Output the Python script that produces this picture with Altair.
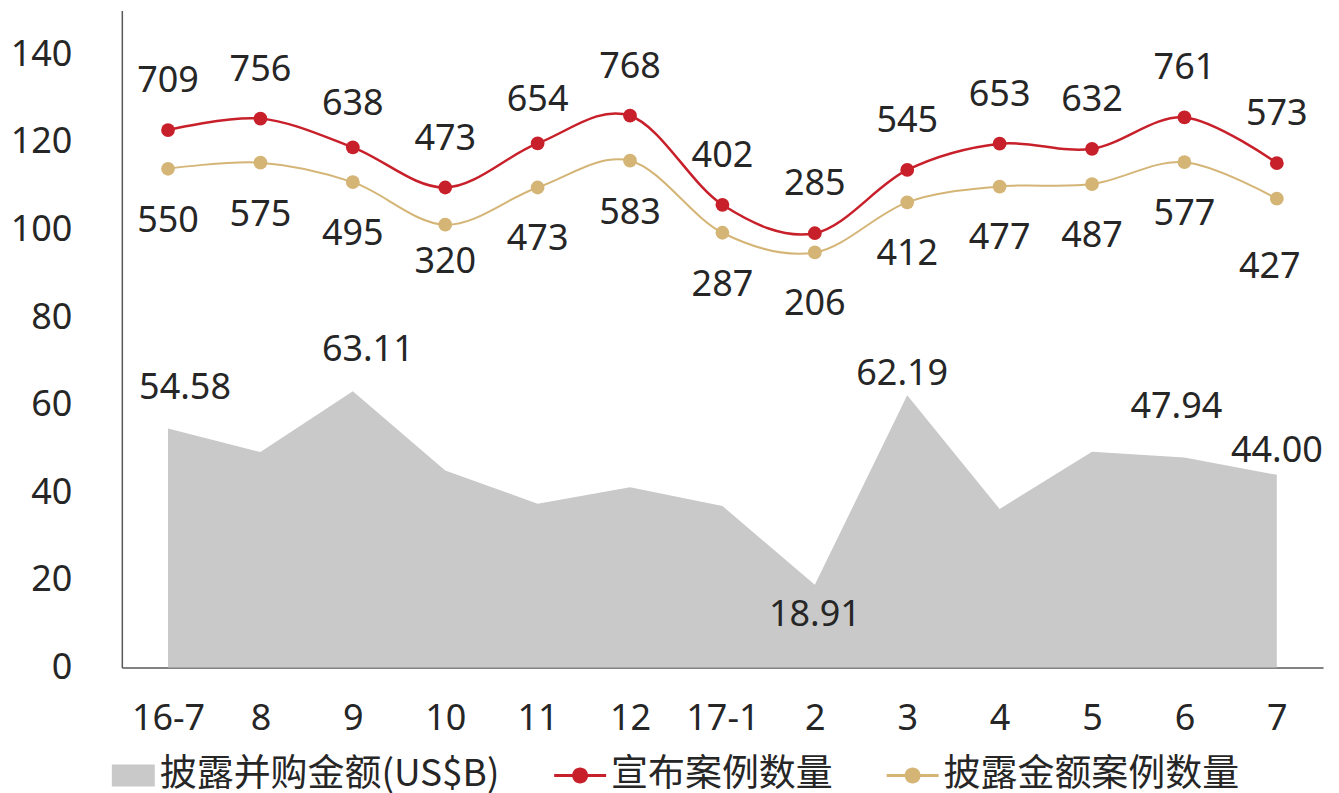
import altair as alt
import pandas as pd

# ---- data ----
categories = ["16-7", "8", "9", "10", "11", "12", "17-1", "2", "3", "4", "5", "6", "7"]
amount_usd_b = [54.58, 49.2, 63.11, 45.0, 37.4, 41.2, 36.9, 18.91, 62.19, 36.2, 49.3, 47.94, 44.00]
announced_cases = [709, 756, 638, 473, 654, 768, 402, 285, 545, 653, 632, 761, 573]
disclosed_cases = [550, 575, 495, 320, 473, 583, 287, 206, 412, 477, 487, 577, 427]
amount_labelled = ["16-7", "9", "2", "3", "6", "7"]

series_names = ["披露并购金额(US$B)", "宣布案例数量", "披露金额案例数量"]

# ---- styles ----
GRAY = "#c9c9c9"
RED = "#c8202a"
TAN = "#d4b576"
TEXT = "#262626"
AXIS = "#595959"
FONT = "Noto Sans, Noto Sans CJK SC"
CJK = "Noto Sans CJK SC"
FS = 36

df = pd.DataFrame({
    "cat": categories,
    "amount": amount_usd_b,
    "announced": announced_cases,
    "disclosed": disclosed_cases,
})

x_axis = alt.Axis(title=None, labelAngle=0, labelFontSize=FS, labelColor=TEXT,
                  labelFont=FONT, ticks=False, domainColor=AXIS, domainWidth=1.5,
                  labelPadding=34, labelOverlap=False, grid=False)
x_enc = alt.X("cat:N", sort=categories, scale=alt.Scale(padding=0.5), axis=x_axis)

y_main_scale = alt.Scale(domain=[0, 150], nice=False)
y_cnt_scale = alt.Scale(domain=[-1500, 1200], nice=False)

base = alt.Chart(df)

area = base.mark_area(color=GRAY, opacity=1).encode(
    x=x_enc,
    y=alt.Y("amount:Q", scale=y_main_scale,
            axis=alt.Axis(title=None, values=[0, 20, 40, 60, 80, 100, 120, 140], grid=False,
                          ticks=False, labelFontSize=FS, labelColor=TEXT, labelFont=FONT,
                          labelPadding=50, domainColor=AXIS, domainWidth=1.5)),
)

# amount labels (individually nudged like the original)
amt_offsets = {"16-7": (17, -41), "9": (15, -41), "2": (0, 30), "3": (-5, -21), "6": (-8, -51), "7": (0, -24)}
amt_labels = []
for c in amount_labelled:
    dx, dy = amt_offsets[c]
    amt_labels.append(
        base.transform_filter(alt.datum.cat == c).mark_text(
            fontSize=FS, color=TEXT, font=FONT, dx=dx, dy=dy, baseline="middle"
        ).encode(
            x=x_enc,
            y=alt.Y("amount:Q", scale=y_main_scale, axis=None),
            text=alt.Text("amount:Q", format=".2f"),
        )
    )

def count_layers(field, color, width, label_offsets, default_offset):
    yenc = alt.Y(f"{field}:Q", scale=y_cnt_scale, axis=None)
    line = base.mark_line(color=color, strokeWidth=width, interpolate="cardinal").encode(x=x_enc, y=yenc)
    pts = base.mark_point(filled=True, color=color, opacity=1, size=190).encode(x=x_enc, y=yenc)
    layers = [line, pts]
    special = list(label_offsets.keys())
    layers.append(
        base.transform_filter(~alt.FieldOneOfPredicate(field="cat", oneOf=special)).mark_text(
            fontSize=FS, color=TEXT, font=FONT, dx=default_offset[0], dy=default_offset[1], baseline="middle"
        ).encode(x=x_enc, y=yenc, text=f"{field}:Q")
    )
    for c, (dx, dy) in label_offsets.items():
        layers.append(
            base.transform_filter(alt.datum.cat == c).mark_text(
                fontSize=FS, color=TEXT, font=FONT, dx=dx, dy=dy, baseline="middle"
            ).encode(x=x_enc, y=yenc, text=f"{field}:Q")
        )
    return layers

red_layers = count_layers("announced", RED, 2.5, {"9": (0, -43), "11": (0, -43)}, (0, -49))
tan_layers = count_layers("disclosed", TAN, 2, {"10": (0, 37), "7": (-7, 68)}, (0, 52))

# legend (single merged legend, symbols drawn as custom paths)
rect_path = "M-0.654,-0.423H1V0.423H-0.654Z"
line_dot_path = ("M-1,-0.058H1V0.058H-1Z "
                 "M-0.308,0A0.308,0.308 0 1,1 0.308,0A0.308,0.308 0 1,1 -0.308,0Z")
legend_props = dict(
    title=None, orient="none", legendX=-19, legendY=740, direction="horizontal", columns=3,
    symbolSize=2704, symbolStrokeWidth=0, symbolOpacity=1, labelFont=CJK, labelFontSize=37,
    labelColor=TEXT, labelLimit=600, labelOffset=5, columnPadding=54, padding=0,
)
legend_df = pd.DataFrame({"series": series_names})
legend_layer = alt.Chart(legend_df).mark_point(filled=True, opacity=0, size=10).encode(
    x=alt.value(0), y=alt.value(0),
    color=alt.Color("series:N", sort=series_names,
                    scale=alt.Scale(domain=series_names, range=[GRAY, RED, TAN]),
                    legend=alt.Legend(**legend_props)),
    shape=alt.Shape("series:N", sort=series_names,
                    scale=alt.Scale(domain=series_names, range=[rect_path, line_dot_path, line_dot_path]),
                    legend=alt.Legend(**legend_props)),
)

chart = alt.layer(area, *amt_labels, *red_layers, *tan_layers, legend_layer).resolve_scale(
    y="independent"
).properties(
    width=1203, height=658,
    padding={"left": 114, "top": 2, "right": 8, "bottom": 125},
    autosize=alt.AutoSizeParams(type="none"),
).configure(font=FONT).configure_view(strokeWidth=0)

chart.save("out.html", embed_options={"renderer": "svg", "actions": False})
